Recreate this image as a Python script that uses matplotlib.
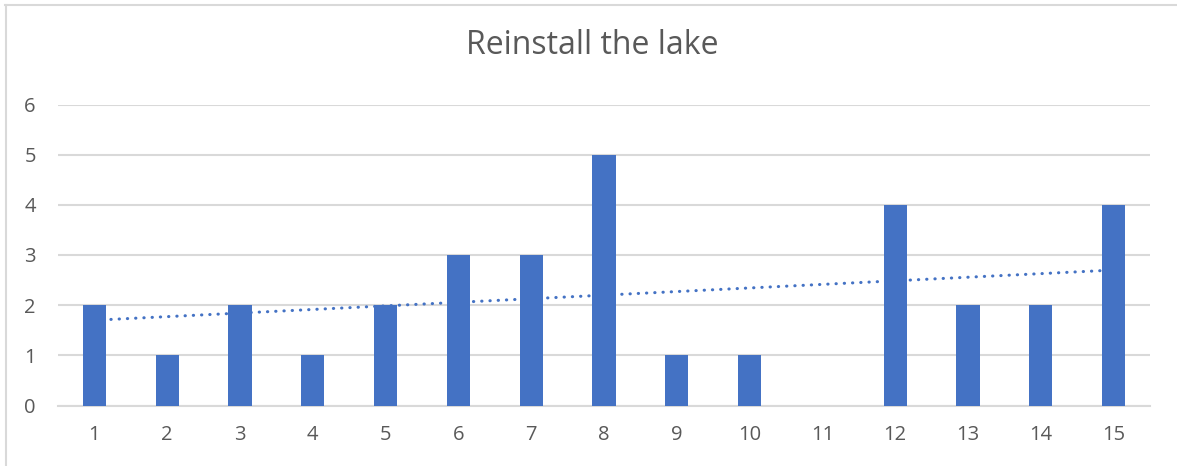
import numpy as np
import matplotlib
matplotlib.use("Agg")
import matplotlib.pyplot as plt
from matplotlib.lines import Line2D

# values
categories = list(range(1, 16))
counts = [2, 1, 2, 1, 2, 3, 3, 5, 1, 1, 0, 4, 2, 2, 4]
title = "Reinstall the lake"

bar_color = "#4472C4"
grid_color = "#D9D9D9"
text_color = "#595959"

plt.rcParams['font.family'] = ['Open Sans', 'DejaVu Sans']

fig = plt.figure(figsize=(11.77, 4.66), dpi=100)
ax = fig.add_axes([58 / 1177, 1 - 405.5 / 466, 1092 / 1177, 301 / 466])

x = np.array(categories)
y = np.array(counts)

# linear trendline (least squares, like Excel's)
slope, intercept = np.polyfit(x, y, 1)
ax.plot(x, slope * x + intercept, color=bar_color, linewidth=2.2,
        linestyle=(0, (0.1, 2.6)), dash_capstyle='round', zorder=2)

ax.bar(x, y, width=0.316, color=bar_color, zorder=3)

ax.set_xlim(0.5, 15.5)
ax.set_ylim(0, 6)
ax.set_xticks(x)
ax.set_xticklabels([str(c) for c in categories])
ax.set_yticks(range(0, 7))

ax.grid(axis='y', color=grid_color, linewidth=1.5, zorder=0)
ax.set_axisbelow(True)
for s in ax.spines.values():
    s.set_visible(False)
ax.axhline(0, color=grid_color, linewidth=1.5, zorder=1, clip_on=False)

ax.tick_params(axis='both', length=0, labelsize=14.5, colors=text_color)
ax.tick_params(axis='y', pad=16)
ax.tick_params(axis='x', pad=14)

fig.text(592 / 1177, 1 - 46 / 466, title, ha='center', va='center',
         fontsize=23, color=text_color)

# chart border (top and left edges visible)
fig.add_artist(Line2D([5 / 1177, 1], [1 - 5 / 466, 1 - 5 / 466],
                      transform=fig.transFigure, color=grid_color, linewidth=1.5))
fig.add_artist(Line2D([5.5 / 1177, 5.5 / 1177], [0, 1 - 5 / 466],
                      transform=fig.transFigure, color=grid_color, linewidth=1.5))

fig.savefig("out.png", dpi=100)
